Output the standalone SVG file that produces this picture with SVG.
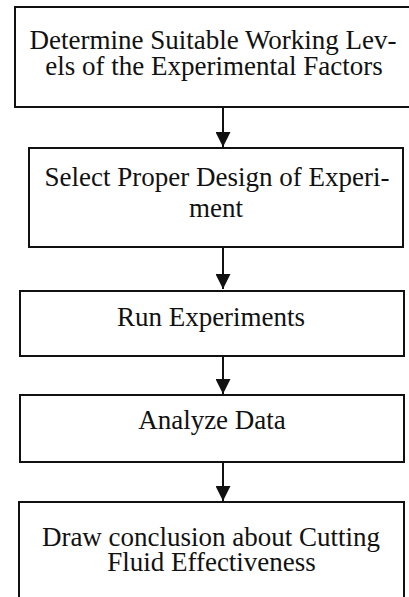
<svg xmlns="http://www.w3.org/2000/svg" width="409" height="597" viewBox="0 0 409 597">
  <style>
    .box { fill: #ffffff; stroke: #111111; stroke-width: 2; }
    .label { font-family: "Liberation Serif", "Times New Roman", serif; font-size: 27px; fill: #111111; text-anchor: middle; }
    .link { stroke: #111111; stroke-width: 2; fill: none; marker-end: url(#head); }
  </style>
  <defs>
    <marker id="head" viewBox="0 0 15 15" refX="15" refY="7.5" markerWidth="15" markerHeight="15" markerUnits="userSpaceOnUse" orient="auto">
      <path d="M0,0 L15,7.5 L0,15 Z" fill="#111111"/>
    </marker>
  </defs>
  <rect width="409" height="597" fill="#ffffff"/>

  <g id="levels">
    <rect class="box" x="15" y="7" width="400" height="100"/>
    <text class="label" x="213" y="49">Determine Suitable Working Lev-</text>
    <text class="label" x="214" y="74.5">els of the Experimental Factors</text>
  </g>

  <g id="design">
    <rect class="box" x="29" y="148" width="374" height="99"/>
    <text class="label" x="217" y="186">Select Proper Design of Experi-</text>
    <text class="label" x="216" y="217">ment</text>
  </g>

  <g id="run">
    <rect class="box" x="20" y="291" width="384" height="65"/>
    <text class="label" x="211" y="326">Run Experiments</text>
  </g>

  <g id="analyze">
    <rect class="box" x="20" y="395" width="384" height="67"/>
    <text class="label" x="212" y="429">Analyze Data</text>
  </g>

  <g id="conclude">
    <rect class="box" x="19" y="502" width="385" height="110"/>
    <text class="label" x="211" y="546">Draw conclusion about Cutting</text>
    <text class="label" x="211.5" y="571">Fluid Effectiveness</text>
  </g>

  <g id="connectors">
    <line class="link" x1="223" y1="107" x2="223" y2="147"/>
    <line class="link" x1="223" y1="247" x2="223" y2="289"/>
    <line class="link" x1="223" y1="356" x2="223" y2="394"/>
    <line class="link" x1="223" y1="462" x2="223" y2="501"/>
  </g>
</svg>
